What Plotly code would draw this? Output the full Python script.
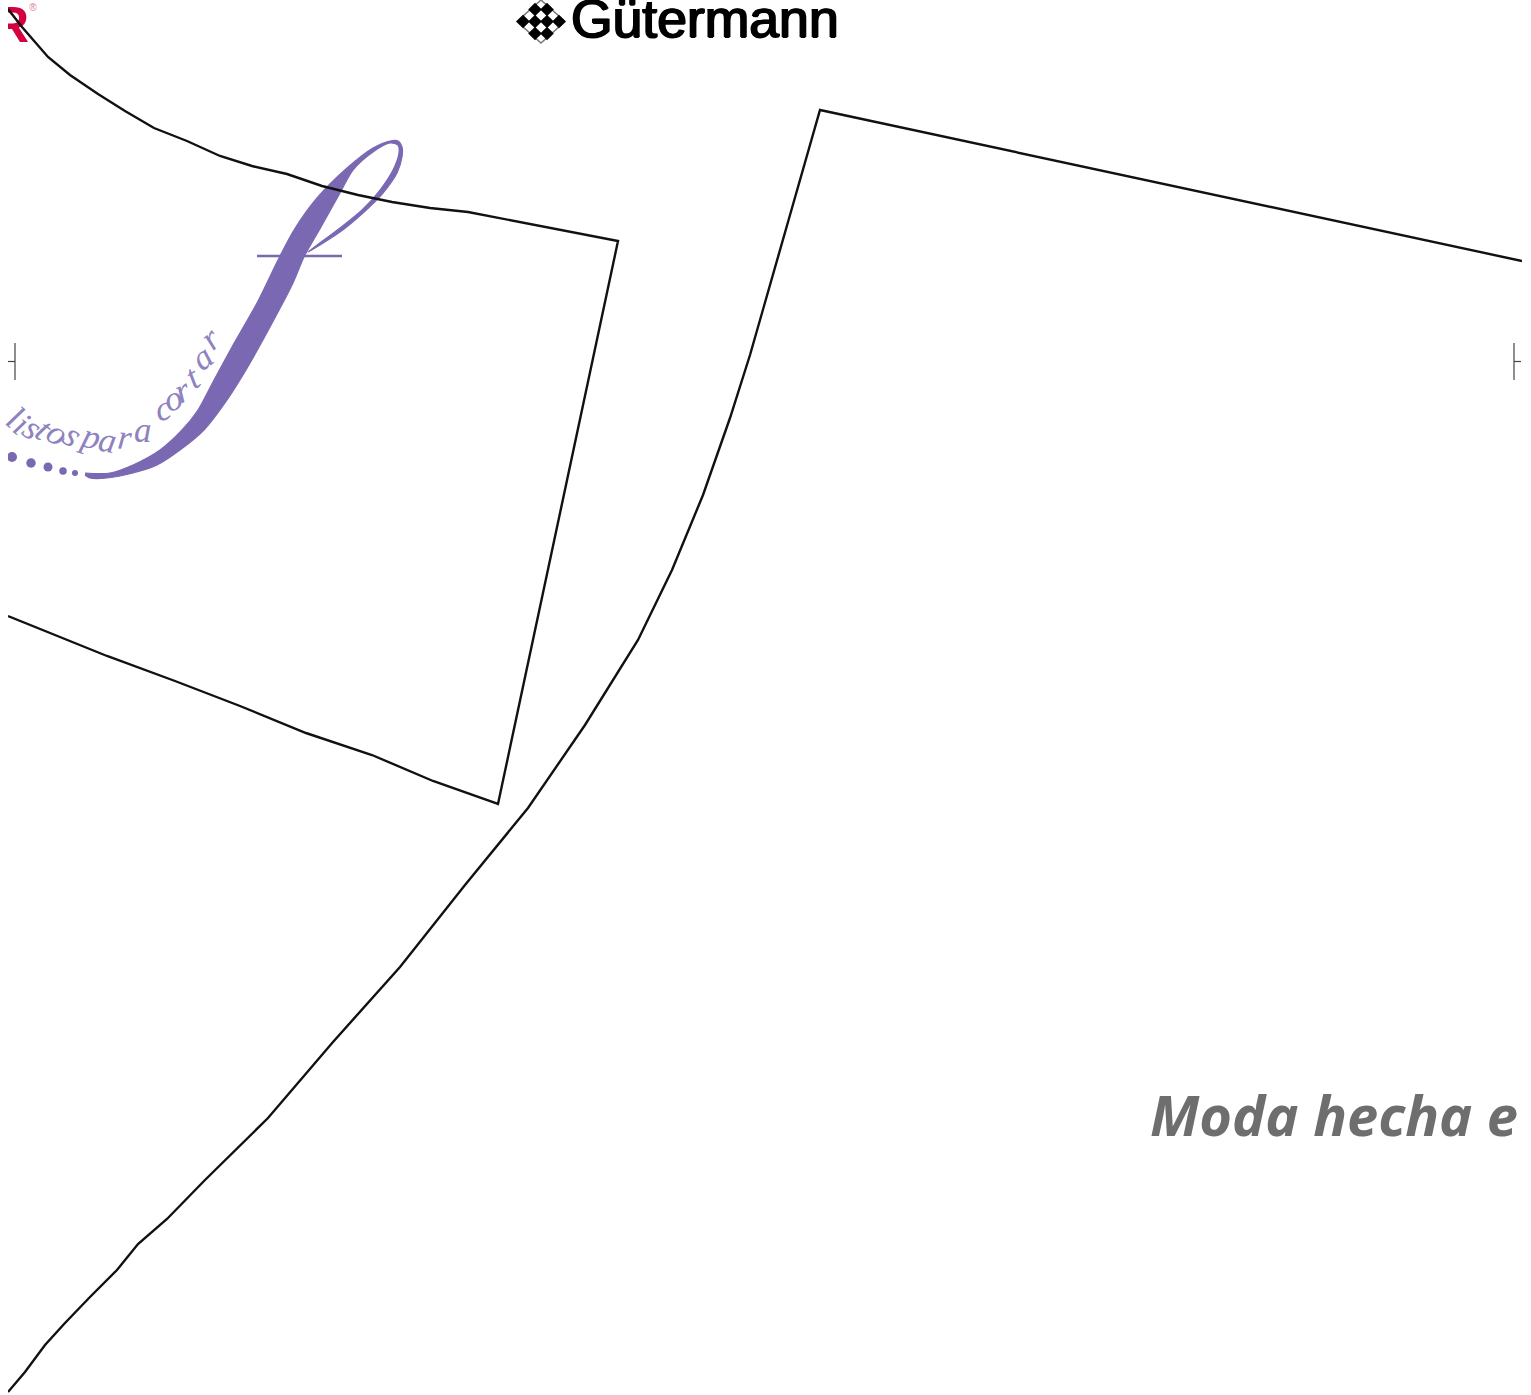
import plotly.graph_objects as go

# Pattern outlines
piece_a_x = [8,22,48,70,98,125,154,187,220,252,287,322,358,392,430,468,618,498,433,372,306,240,175,107,8]
piece_a_y = [9,27,57,75,94,111,128,141,156,166,174,186,195,202,208,212,241,804,781,755,733,706,681,656,616]
piece_b_x = [1522,820,790,750,730,703,672,638,585,528,465,400,333,268,205,167,138,117,90,65,45,25,8]
piece_b_y = [261,110,215,355,418,495,570,640,725,808,885,967,1042,1118,1180,1219,1244,1270,1297,1323,1345,1372,1392]

# Registration marks
mark_left_x = [15,15,None,8,15]
mark_left_y = [343,380,None,361.5,361.5]
mark_right_x = [1514,1514,None,1514,1521]
mark_right_y = [343,380,None,361.5,361.5]

# Script flourish
swash_x = [85,110,133,160,182,198,214,232,257,279,294,317,347,373,390,398,402,402,397,383,363,340,308,
           340,362,380,393,399,398,390,373,353,340,321,304,293,270,246,225,204,180,157,133,107,90,85]
swash_y = [473,473,465,450,430,410,380,347,303,258,230,198,168,148,141,141,147,157,173,193,213,232,252,
           228,210,190,170,153,145,143,152,170,193,227,257,283,327,370,403,430,450,465,473,478,478,475]
crossbar_x = [257,342]
crossbar_y = [256,256]
dots_x = [12,31,48,63,75]
dots_y = [457,463,467,471,473]
dots_size = [10,9.5,9,7.5,6]

tag_letters = list("listospara") + list("cortar")
tag_x = [15,22,33,44,58,73,90,108,125,143,163,173,182,192,202,210]
tag_y = [417,424,428,429,433,435,436,440,437,430,408,398,390,377,357,338]
tag_angle = [36,36,36,36,36,34,16,10,6,0,-14,-18,-24,-31,-38,-42]

# Thread brand logo
board_x = [541,565,541,517,541]
board_y = [0,21.5,43,21.5,0]
cells_x = [535,547,523,535,547,559,535,547]
cells_y = [9.5,9.5,21.5,21.5,21.5,21.5,33.5,33.5]

PURPLE = "#7a69b2"
fig = go.Figure()
fig.add_trace(go.Scatter(x=swash_x, y=swash_y, mode="lines", fill="toself", fillcolor=PURPLE,
                         line=dict(color=PURPLE, width=1.2, shape="spline", smoothing=0.8)))
fig.add_trace(go.Scatter(x=crossbar_x, y=crossbar_y, mode="lines", line=dict(color=PURPLE, width=2.4)))
fig.add_trace(go.Scatter(x=dots_x, y=dots_y, mode="markers",
                         marker=dict(color=PURPLE, size=dots_size, opacity=1, line=dict(width=0))))
# Brand words
fig.add_trace(go.Scatter(x=[-7], y=[29], mode="text", text=["R"], textposition="middle right",
                         textfont=dict(family="Liberation Sans", size=50, color="#d4003f", weight="bold")))
fig.add_trace(go.Scatter(x=[33], y=[8], mode="text", text=["®"],
                         textfont=dict(family="Liberation Sans", size=10, color="#e07a9a")))
fig.add_trace(go.Scatter(x=[571], y=[24], mode="text", text=["Gütermann"], textposition="middle right",
                         textfont=dict(family="Liberation Sans", size=53.5, color="#000000",
                                       shadow="1px 0 0 #000, -1px 0 0 #000, 0 1px 0 #000")))
fig.add_trace(go.Scatter(x=[1150], y=[1122], mode="text", text=["Moda hecha e"], textposition="middle right",
                         textfont=dict(family="Open Sans", size=56, color="#6e6e6e", weight="bold", style="italic")))
# Logo
fig.add_trace(go.Scatter(x=board_x, y=board_y, mode="lines", fill="toself", fillcolor="#ffffff",
                         line=dict(color="#777777", width=1.5)))
fig.add_trace(go.Scatter(x=cells_x, y=cells_y, mode="markers",
                         marker=dict(symbol="diamond", color="#000000", size=10.5, line=dict(width=0))))
# Pattern lines
for xs, ys in ((piece_a_x, piece_a_y), (piece_b_x, piece_b_y)):
    fig.add_trace(go.Scatter(x=xs, y=ys, mode="lines", line=dict(color="#111111", width=2.4)))
for xs, ys in ((mark_left_x, mark_left_y), (mark_right_x, mark_right_y)):
    fig.add_trace(go.Scatter(x=xs, y=ys, mode="lines", line=dict(color="#444444", width=1.2), connectgaps=False))

for ch, x, y, a in zip(tag_letters, tag_x, tag_y, tag_angle):
    fig.add_annotation(x=x, y=y, xref="x", yref="y", text=ch, showarrow=False, textangle=a,
                       font=dict(family="Liberation Serif", size=35, color="#8e82c0", style="italic"))

fig.update_layout(width=1531, height=1395, showlegend=False,
                  margin=dict(l=8, r=9, t=0, b=0, autoexpand=False),
                  paper_bgcolor="#ffffff", plot_bgcolor="#ffffff",
                  xaxis=dict(range=[8, 1522], visible=False),
                  yaxis=dict(range=[1395, 0], visible=False))
fig.write_html("out.html", config={"displayModeBar": False},
               post_script="document.body.style.margin='0';document.body.style.overflow='hidden';")
